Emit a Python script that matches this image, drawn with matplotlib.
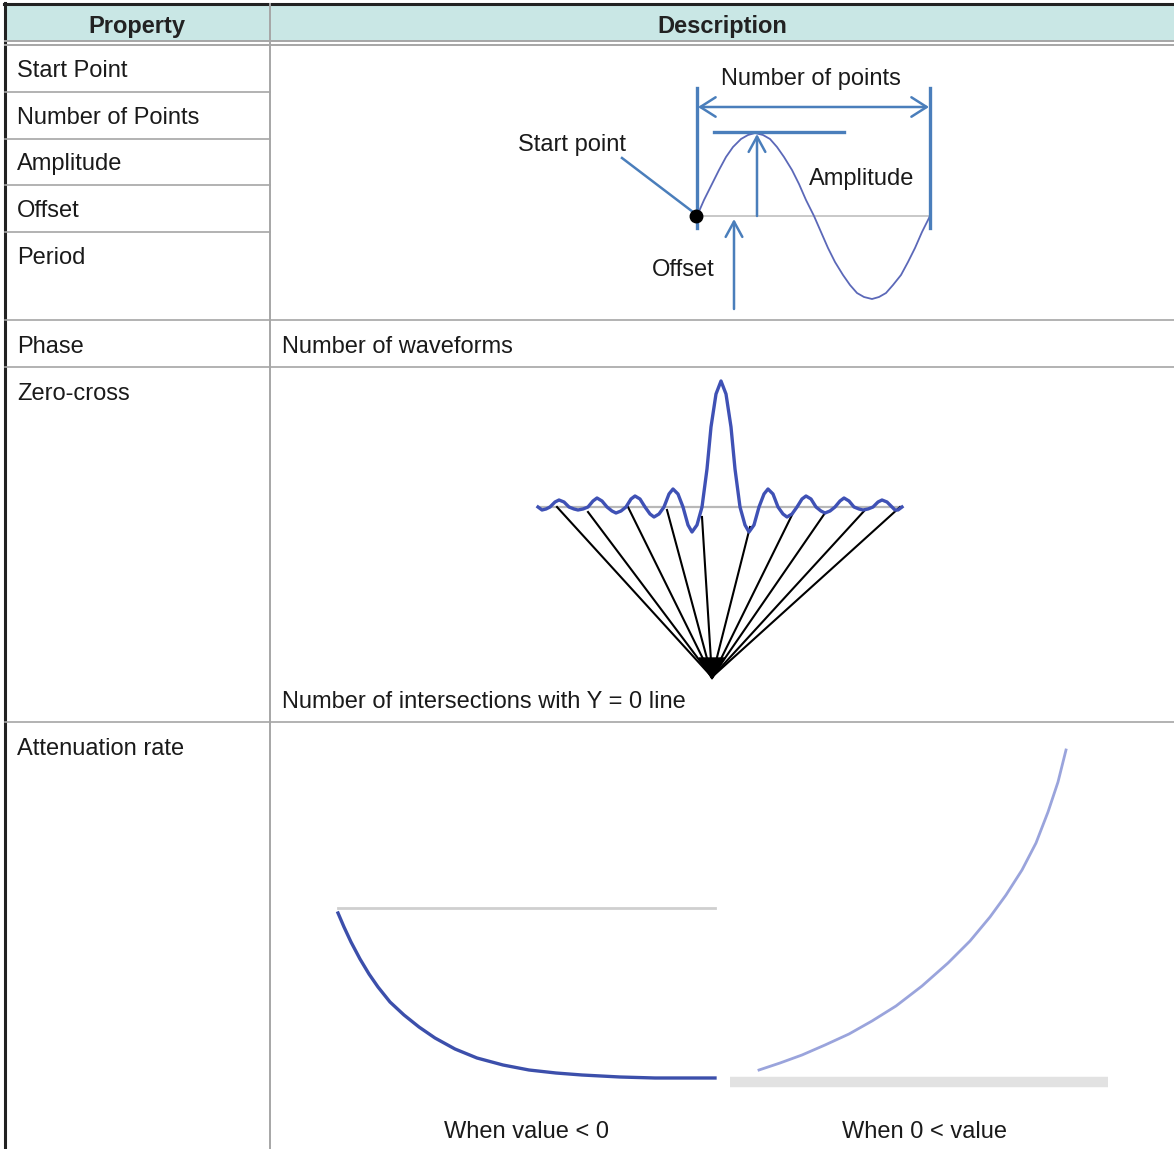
import matplotlib
matplotlib.use("Agg")
import matplotlib.pyplot as plt
from matplotlib.patches import Rectangle, Polygon

plt.rcParams['font.family'] = ['Liberation Sans', 'DejaVu Sans']

# --- table text ---
headers = ['Property', 'Description']
left_labels = ['Start Point', 'Number of Points', 'Amplitude', 'Offset', 'Period',
               'Phase', 'Zero-cross', 'Attenuation rate']
right_labels = ['Number of waveforms', 'Number of intersections with Y = 0 line']
atten_labels = ['When value < 0', 'When 0 < value']

# --- sine diagram (pixel coords) ---
sine_x = [697, 704, 712, 719, 726, 733, 741, 748, 755, 763, 770, 777, 784, 792, 799, 806, 814,
          821, 828, 835, 843, 850, 857, 864, 872, 879, 886, 893, 901, 908, 915, 922, 930]
sine_y = [216, 200, 184, 170, 157, 147, 139, 135, 133, 135, 139, 147, 157, 170, 184, 200, 216,
          232, 248, 262, 275, 285, 293, 297, 299, 297, 293, 285, 275, 262, 248, 232, 216]

# --- zero-cross (sinc-like) curve ---
sinc_x = [538, 542, 546, 550, 555, 559, 564, 569, 574, 578, 583, 588, 593, 597, 602, 607, 612,
          616, 621, 626, 631, 635, 640, 645, 650, 654, 659, 664, 669, 673, 678, 683, 688, 692,
          697, 702, 707, 711, 716, 721, 726, 731, 735, 740, 745, 749, 754, 759, 764, 768, 773,
          778, 783, 787, 792, 797, 802, 806, 811, 816, 821, 825, 830, 835, 840, 844, 849, 854,
          859, 863, 868, 873, 878, 882, 887, 892, 895, 898, 902]
sinc_y = [507, 510, 509, 507, 502, 500, 502, 507, 509, 510, 509, 507, 501, 498, 501, 507, 511,
          513, 511, 507, 499, 496, 499, 507, 514, 517, 514, 507, 494, 489, 494, 507, 525, 532,
          525, 507, 469, 427, 394, 381, 394, 427, 469, 507, 525, 532, 525, 507, 494, 489, 494,
          507, 514, 517, 514, 507, 499, 496, 499, 507, 511, 513, 511, 507, 501, 498, 501, 507,
          509, 510, 509, 507, 502, 500, 502, 507, 510, 510, 507]
fan_ends_x = [557, 588, 628, 667, 702, 750, 792, 825, 865, 900]
fan_ends_y = [507, 512, 507, 510, 517, 527, 515, 513, 510, 507]

# --- attenuation curves ---
neg_x = [338, 344, 351, 360, 369, 378, 390, 404, 419, 435, 455, 477, 503, 529, 556, 582, 620, 655, 715]
neg_y = [913, 927, 942, 959, 974, 987, 1002, 1015, 1027, 1038, 1049, 1058, 1065, 1070, 1073, 1075, 1077, 1078, 1078]
pos_x = [759, 780, 802, 825, 849, 872, 896, 922, 948, 970, 990, 1006, 1022, 1036, 1048, 1058, 1066]
pos_y = [1070, 1063, 1055, 1045, 1034, 1021, 1006, 986, 963, 941, 917, 895, 870, 843, 812, 782, 750]

W, H = 1174, 1149
fig = plt.figure(figsize=(W / 100, H / 100), dpi=100)
ax = fig.add_axes([0, 0, 1, 1])
ax.set_xlim(0, W)
ax.set_ylim(H, 0)
ax.axis('off')

GRID = '#a6a6a6'
BLUE = '#4a7ebb'
TXT = '#1a1a1a'
FS = 17

# header
ax.add_patch(Rectangle((5, 4), W - 5, 37, facecolor='#c9e7e5', edgecolor='none'))
ax.plot([4, W], [4, 4], color='#222222', lw=2.2)
ax.plot([5, 5], [3, H], color='#222222', lw=2.2)
ax.plot([5, W], [41, 41], color=GRID, lw=1.4)
ax.plot([5, W], [44.5, 44.5], color=GRID, lw=1.4)
ax.plot([270, 270], [4, H], color=GRID, lw=1.4)
for yy in [92, 139, 185, 232]:
    ax.plot([5, 270], [yy, yy], color=GRID, lw=1.2)
for yy in [320, 367, 722]:
    ax.plot([5, W], [yy, yy], color=GRID, lw=1.2)

ax.text(137, 26, headers[0], ha='center', va='center', fontsize=FS, fontweight='bold', color='#222222')
ax.text(722, 26, headers[1], ha='center', va='center', fontsize=FS, fontweight='bold', color='#222222')

left_y = [71, 118, 164, 211, 258, 347, 394, 749]
for lab, yy in zip(left_labels, left_y):
    ax.text(17, yy, lab, ha='left', va='center', fontsize=FS, color=TXT)
ax.text(282, 347, right_labels[0], ha='left', va='center', fontsize=FS, color=TXT)
ax.text(282, 702, right_labels[1], ha='left', va='center', fontsize=FS, color=TXT)

# sine diagram
ax.plot([697, 930], [216, 216], color='#c8c8c8', lw=1.4)
ax.plot(sine_x, sine_y, color='#5b68b8', lw=1.3)
ax.plot([697, 697], [88, 228], color=BLUE, lw=2.4)
ax.plot([930, 930], [88, 228], color=BLUE, lw=2.4)
ax.plot([714, 844], [132, 132], color=BLUE, lw=2.4)
arr = dict(color=BLUE, lw=1.8, shrinkA=0, shrinkB=0)
ax.annotate('', xy=(929, 107), xytext=(698, 107),
            arrowprops=dict(arrowstyle='<->,head_length=1.1,head_width=0.7', **arr))
ax.annotate('', xy=(757, 134), xytext=(757, 216),
            arrowprops=dict(arrowstyle='->,head_length=1.1,head_width=0.6', **arr))
ax.annotate('', xy=(734, 219), xytext=(734, 309),
            arrowprops=dict(arrowstyle='->,head_length=1.1,head_width=0.6', **arr))
ax.plot([622, 693], [158, 212], color=BLUE, lw=1.8)
ax.plot([696], [216], marker='o', color='black', markersize=9)
ax.text(811, 79, 'Number of points', ha='center', va='center', fontsize=FS, color=TXT)
ax.text(572, 145, 'Start point', ha='center', va='center', fontsize=FS, color=TXT)
ax.text(862, 179, 'Amplitude', ha='center', va='center', fontsize=FS, color=TXT)
ax.text(683, 270, 'Offset', ha='center', va='center', fontsize=FS, color=TXT)

# zero-cross diagram
apex = (712, 677)
ax.plot([538, 902], [507, 507], color='#b8b8b8', lw=1.6)
for ex, ey in zip(fan_ends_x, fan_ends_y):
    ax.plot([ex, apex[0]], [ey, apex[1]], color='black', lw=1.5)
ax.add_patch(Polygon([(699, 658), (725, 658), (712, 679)], closed=True, color='black'))
ax.plot(sinc_x, sinc_y, color='#3f51b5', lw=2.4, solid_joinstyle='round')

# attenuation diagram
ax.plot([338, 715], [908, 908], color='#cfcfcf', lw=2.0)
ax.plot(neg_x, neg_y, color='#3c4fab', lw=2.4)
ax.plot([730, 1108], [1082, 1082], color='#e2e2e2', lw=7.5, solid_capstyle='butt')
ax.plot(pos_x, pos_y, color='#9aa4dc', lw=2.0)
ax.text(526, 1132, atten_labels[0], ha='center', va='center', fontsize=FS, color=TXT)
ax.text(924, 1132, atten_labels[1], ha='center', va='center', fontsize=FS, color=TXT)

fig.savefig('out.png', dpi=100)
